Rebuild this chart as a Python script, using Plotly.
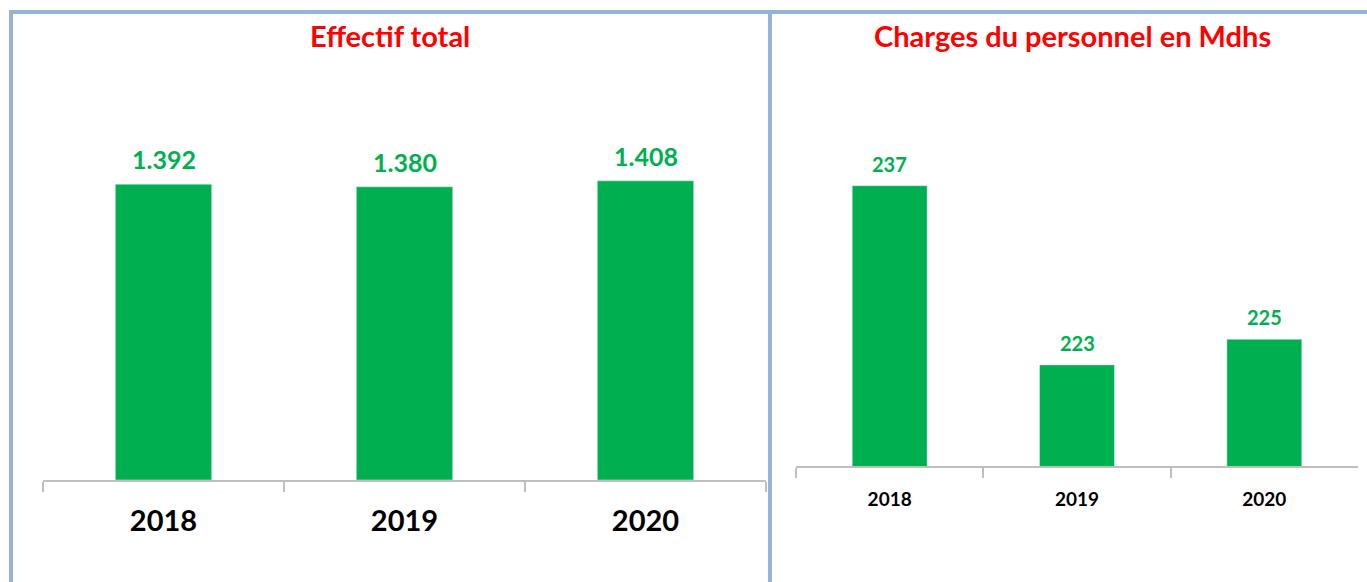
import plotly.graph_objects as go

years = ["2018", "2019", "2020"]
effectif = [1392, 1380, 1408]
charges = [237, 223, 225]
title_left = "Effectif total"
title_right = "Charges du personnel en Mdhs"

W, H = 1367, 582
GREEN = "#00B050"
RED = "#FF0000"
BORDER = "#95B3D7"
AXIS = "#BFBFBF"
FONT = "Lato"

def px_x(p):
    return p / W

def px_y(p):
    return 1 - p / H

fig = go.Figure()
fig.add_trace(go.Bar(x=years, y=effectif, marker_color=GREEN, xaxis="x", yaxis="y",
                     hoverinfo="x+y", showlegend=False))
fig.add_trace(go.Bar(x=years, y=charges, marker_color=GREEN, xaxis="x2", yaxis="y2",
                     hoverinfo="x+y", showlegend=False))

def fmt(v):
    return f"{v:,}".replace(",", ".")

annotations = []
# category axes: annotation x given as category index
for i, v in enumerate(effectif):
    annotations.append(dict(x=i, y=v, xref="x", yref="y", text=f"<b>{fmt(v)}</b>",
                            showarrow=False, yanchor="bottom", yshift=8,
                            font=dict(family=FONT, size=25, color=GREEN)))
for i, v in enumerate(charges):
    annotations.append(dict(x=i, y=v, xref="x2", yref="y2", text=f"<b>{fmt(v)}</b>",
                            showarrow=False, yanchor="bottom", yshift=8,
                            font=dict(family=FONT, size=20, color=GREEN)))
annotations.append(dict(x=px_x(390), y=px_y(35), xref="paper", yref="paper",
                        text=f"<b>{title_left}</b>", showarrow=False,
                        xanchor="center", yanchor="middle",
                        font=dict(family=FONT, size=29, color=RED)))
annotations.append(dict(x=px_x(1072), y=px_y(35), xref="paper", yref="paper",
                        text=f"<b>{title_right}</b>", showarrow=False,
                        xanchor="center", yanchor="middle",
                        font=dict(family=FONT, size=29, color=RED)))

shapes = [
    dict(type="line", xref="paper", yref="paper", x0=px_x(9), x1=1, y0=px_y(12), y1=px_y(12),
         line=dict(color=BORDER, width=4)),
    dict(type="line", xref="paper", yref="paper", x0=px_x(11), x1=px_x(11), y0=px_y(10), y1=0,
         line=dict(color=BORDER, width=4)),
    dict(type="line", xref="paper", yref="paper", x0=px_x(770), x1=px_x(770), y0=px_y(10), y1=0,
         line=dict(color=BORDER, width=4)),
]

axis_common = dict(type="category", showgrid=False, zeroline=False, showline=True,
                   linecolor=AXIS, linewidth=1.5, ticks="outside", tickson="boundaries",
                   tickcolor=AXIS, tickwidth=1.5, ticklen=10, automargin=False,
                   range=[-0.5, 2.5], tickangle=0)

fig.update_layout(
    width=W, height=H,
    margin=dict(l=0, r=0, t=0, b=0, autoexpand=False),
    plot_bgcolor="white", paper_bgcolor="white",
    bargap=0.6,
    xaxis=dict(domain=[px_x(43), px_x(766)], anchor="y", **axis_common,
               ticklabelstandoff=14,
               tickfont=dict(family=FONT, size=29, color="black", weight="bold")),
    yaxis=dict(domain=[px_y(480), px_y(140)], anchor="x", range=[0, 1600],
               visible=False, showgrid=False, zeroline=False, automargin=False),
    xaxis2=dict(domain=[px_x(796), px_x(1358)], anchor="y2", **axis_common,
                ticklabelstandoff=15,
                tickfont=dict(family=FONT, size=19, color="black", weight="bold")),
    yaxis2=dict(domain=[px_y(466), px_y(82)], anchor="x2", range=[215.1, 245.1],
                visible=False, showgrid=False, zeroline=False, automargin=False),
    annotations=annotations,
    shapes=shapes,
)

fig.write_html("out.html", config={"displayModeBar": False},
               post_script="document.body.style.margin='0';document.body.style.padding='0';")
